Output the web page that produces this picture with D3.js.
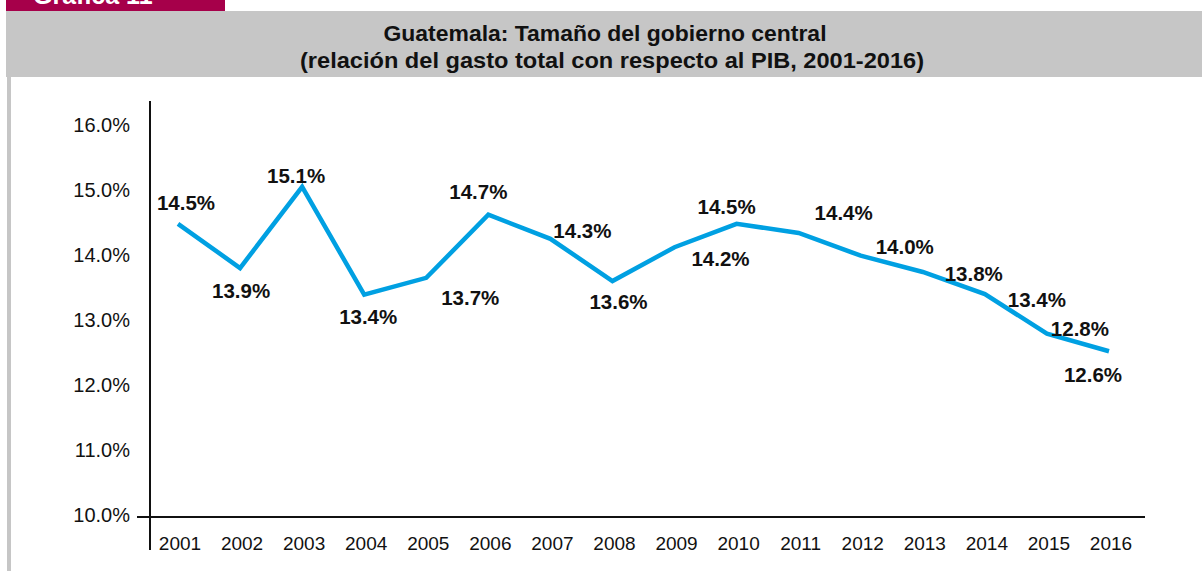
<!DOCTYPE html>
<html>
<head>
<meta charset="utf-8">
<script src="https://cdn.jsdelivr.net/npm/d3@7"></script>
<style>
  html, body { margin: 0; padding: 0; background: #fff; }
  svg { display: block; }
</style>
</head>
<body>
<svg id="chart" width="1202" height="571"></svg>
<script>
// ---- data ----
const years = ["2001","2002","2003","2004","2005","2006","2007","2008","2009","2010","2011","2012","2013","2014","2015","2016"];
const values = [14.51, 13.83, 15.08, 13.42, 13.68, 14.65, 14.28, 13.63, 14.15, 14.51, 14.37, 14.02, 13.77, 13.43, 12.82, 12.55];
const valueLabels = ["14.5%","13.9%","15.1%","13.4%","13.7%","14.7%","14.3%","13.6%","14.2%","14.5%","14.4%","14.0%","13.8%","13.4%","12.8%","12.6%"];
const yTicks = [10, 11, 12, 13, 14, 15, 16];
const titleLines = ["Guatemala: Tamaño del gobierno central", "(relación del gasto total con respecto al PIB, 2001-2016)"];
const tabLabel = "Gráfica 11";

// ---- layout (label offsets relative to each point, in px) ----
const labelOffsets = [[8,-14],[1,30],[-6,-4],[4,29],[44,27],[-10,-16],[32,-1],[6,28],[46,19],[-10,-10],[45,-13],[44,-2],[51,9],[52,13],[33,2],[-16,31]];
const titleWidths = [443, 624];

const svg = d3.select("#chart");
const grey = "#c6c6c6";

// header tab
svg.append("rect").attr("x", 6).attr("y", 0).attr("width", 219).attr("height", 12).attr("fill", "#a6004a");
svg.append("clipPath").attr("id", "tabclip").append("rect").attr("x", 6).attr("y", 0).attr("width", 219).attr("height", 11);
svg.append("text").attr("clip-path", "url(#tabclip)")
  .attr("x", 33).attr("y", 4)
  .attr("font-family", "Liberation Sans, Arial, sans-serif").attr("font-weight", "bold").attr("font-size", 25)
  .attr("fill", "#fff").text(tabLabel);

// title bar
svg.append("rect").attr("x", 6).attr("y", 11).attr("width", 1196).attr("height", 66).attr("fill", grey);
svg.selectAll("text.title").data(titleLines).join("text").attr("class", "title")
  .attr("x", (d, i) => i === 0 ? 605 : 612).attr("y", (d, i) => 41 + i * 27)
  .attr("text-anchor", "middle")
  .attr("textLength", (d, i) => titleWidths[i]).attr("lengthAdjust", "spacingAndGlyphs")
  .attr("font-family", "Liberation Sans, Arial, sans-serif").attr("font-weight", "bold").attr("font-size", 22)
  .attr("fill", "#111").text(d => d);

// left border
svg.append("rect").attr("x", 7).attr("y", 77).attr("width", 4).attr("height", 494).attr("fill", grey);

// scales
const x = d3.scalePoint().domain(years).range([178, 1109]);
const y = d3.scaleLinear().domain([10, 16]).range([517, 127]);

// y axis line
svg.append("line").attr("x1", 150).attr("x2", 150).attr("y1", 101).attr("y2", 550)
  .attr("stroke", "#111").attr("stroke-width", 2);
// x axis line (extends as tick to the left)
svg.append("line").attr("x1", 137).attr("x2", 1145).attr("y1", y(10)).attr("y2", y(10))
  .attr("stroke", "#111").attr("stroke-width", 2);

// y tick labels
svg.selectAll("text.ytick").data(yTicks).join("text").attr("class", "ytick")
  .attr("x", 130).attr("y", d => y(d) + 5)
  .attr("text-anchor", "end")
  .attr("font-family", "Liberation Sans, Arial, sans-serif").attr("font-size", 20)
  .attr("fill", "#111").text(d => d3.format(".1f")(d) + "%");

// x tick labels
svg.selectAll("text.xtick").data(years).join("text").attr("class", "xtick")
  .attr("x", d => x(d) + 2).attr("y", 550)
  .attr("text-anchor", "middle")
  .attr("font-family", "Liberation Sans, Arial, sans-serif").attr("font-size", 19)
  .attr("fill", "#111").text(d => d);

// line
const line = d3.line().x((d, i) => x(years[i])).y(d => y(d));
svg.append("path").datum(values).attr("d", line)
  .attr("fill", "none").attr("stroke", "#00a0e2").attr("stroke-width", 4.5)
  .attr("stroke-linejoin", "miter");

// value labels
svg.selectAll("text.vlabel").data(values).join("text").attr("class", "vlabel")
  .attr("x", (d, i) => x(years[i]) + labelOffsets[i][0])
  .attr("y", (d, i) => y(d) + labelOffsets[i][1])
  .attr("text-anchor", "middle")
  .attr("font-family", "Liberation Sans, Arial, sans-serif").attr("font-weight", "bold").attr("font-size", 20.5)
  .attr("fill", "#111").text((d, i) => valueLabels[i]);
</script>
</body>
</html>
